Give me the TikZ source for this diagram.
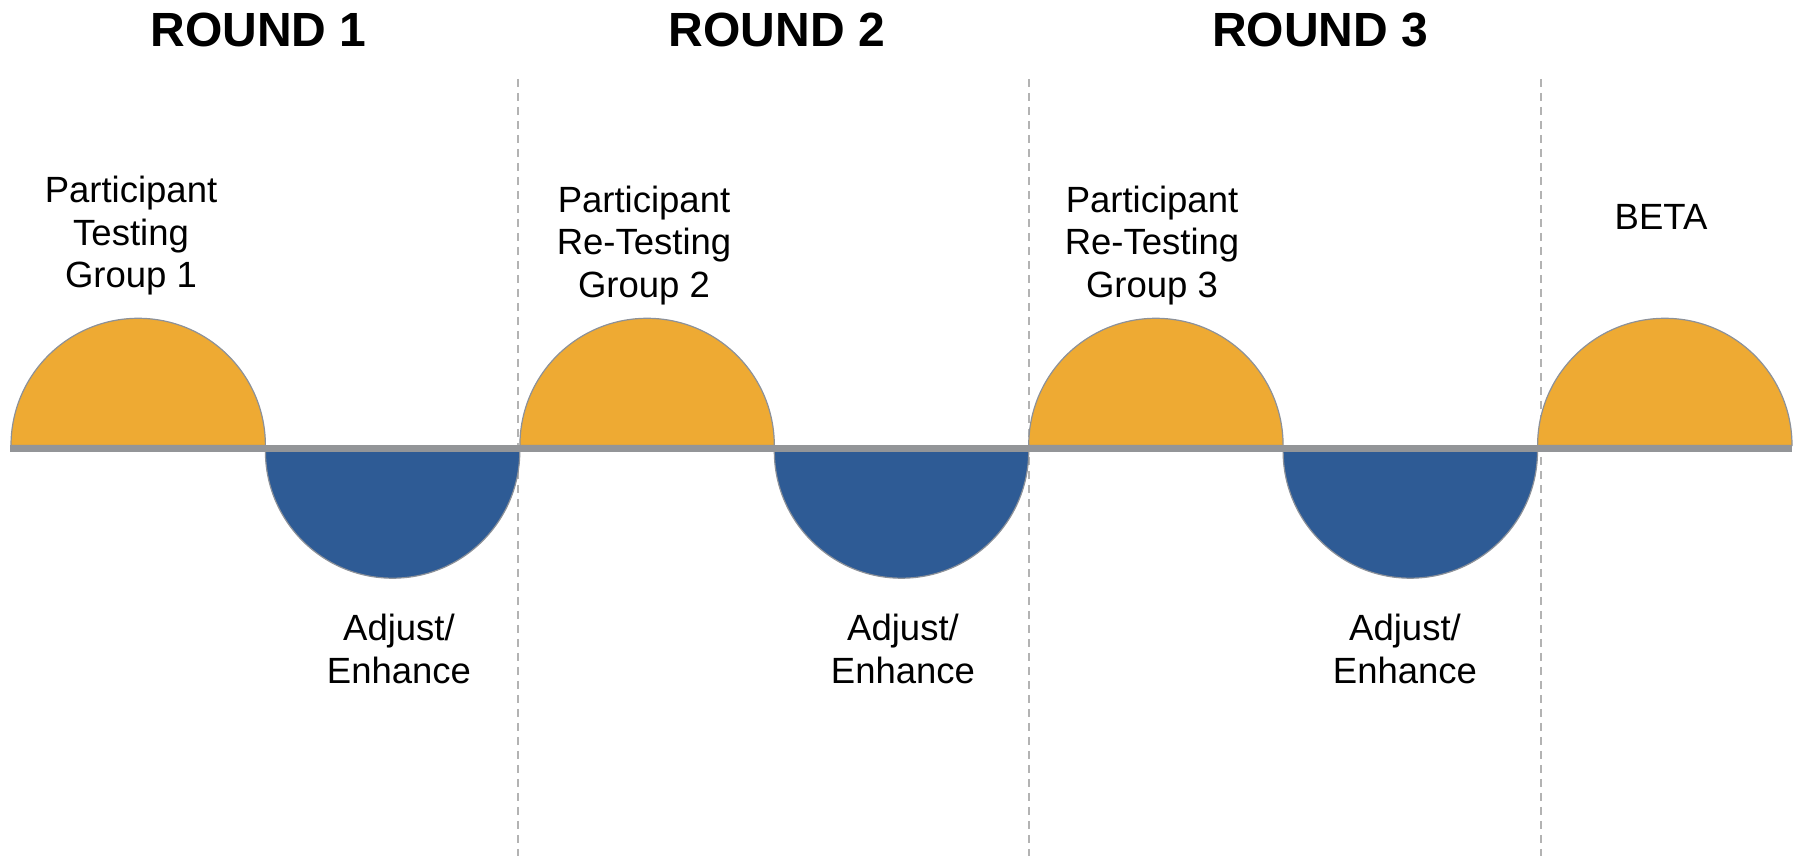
\documentclass[tikz,border=0pt]{standalone}
\usepackage{fontspec}
\setmainfont{Liberation Sans}
\definecolor{orangefill}{HTML}{EEAA33}
\definecolor{bluefill}{HTML}{2E5B95}
\definecolor{axisgray}{HTML}{939598}
\definecolor{edgegray}{HTML}{8C9199}
\definecolor{dashgray}{HTML}{B3B3B3}
\begin{document}
\begin{tikzpicture}[x=1pt,y=1pt,
  roundtitle/.style={font=\fontsize{48}{56}\selectfont\bfseries, inner sep=0pt, anchor=base},
  phase/.style={font=\fontsize{36.5}{42.5}\selectfont, inner sep=0pt, align=center},
  divider/.style={draw=dashgray, line width=2pt, dash pattern=on 8pt off 6pt},
  uphalf/.style={fill=orangefill, draw=edgegray, line width=1.2pt},
  downhalf/.style={fill=bluefill, draw=edgegray, line width=1.2pt},
  axisline/.style={draw=axisgray, line width=7pt}]
\useasboundingbox (0,0) rectangle (1803,856);
% dividers
\foreach \dx/\nm in {518/d1,1029/d2,1541/d3}{
  \coordinate (\nm top) at (\dx,777);
  \coordinate (\nm bot) at (\dx,0);
  \draw[divider] (\nm top) -- (\nm bot);
}
% testing phases (orange, above)
\foreach \sx in {11,519.9,1028.7,1537.6}{
  \draw[uphalf] (\sx,410.5) arc[start angle=180,end angle=0,radius=127.2] -- cycle;
}
% adjust phases (blue, below)
\foreach \sx in {265.4,774.3,1283.1}{
  \draw[downhalf] (\sx,405) arc[start angle=180,end angle=360,radius=127.2] -- cycle;
}
% timeline
\coordinate (axisL) at (10,407.5);
\coordinate (axisR) at (1792,407.5);
\draw[axisline] (axisL) -- (axisR);
% titles
\node[roundtitle] (r1) at (258.5,809) {ROUND 1};
\node[roundtitle] (r2) at (777,809) {ROUND 2};
\node[roundtitle] (r3) at (1320,809) {ROUND 3};
% labels
\node[phase] (g1) at (131,620) {Participant\\Testing\\Group 1};
\node[phase] (g2) at (644,610.5) {Participant\\Re-Testing\\Group 2};
\node[phase] (g3) at (1152,610.5) {Participant\\Re-Testing\\Group 3};
\node[phase, anchor=base] (beta) at (1661,626) {BETA};
\node[phase] (a1) at (399,207) {Adjust/\\Enhance};
\node[phase] (a2) at (903,207) {Adjust/\\Enhance};
\node[phase] (a3) at (1405,207) {Adjust/\\Enhance};
\end{tikzpicture}
\end{document}
